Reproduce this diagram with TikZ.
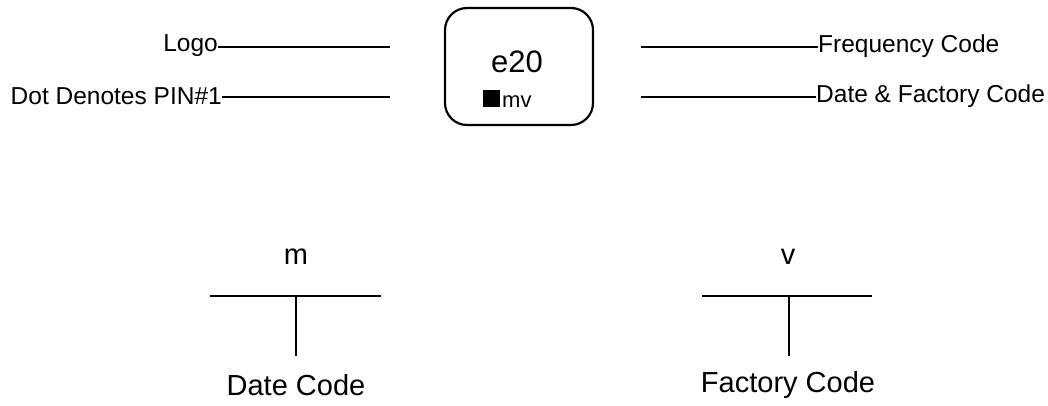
\documentclass[tikz,border=0pt]{standalone}
\usepackage{fontspec}
\setmainfont{Liberation Sans}
\begin{document}
\begin{tikzpicture}[x=1pt,y=-1pt,
  lbl/.style={inner sep=0pt, font=\fontsize{24.5}{27}\selectfont},
  big/.style={inner sep=0pt, font=\fontsize{29}{32}\selectfont},
  wire/.style={line width=2.2pt},
  chip/.style={draw, line width=2.2pt, rounded corners=22pt, minimum width=148pt, minimum height=117pt, inner sep=0pt}]
\useasboundingbox (0,0) rectangle (1048,405);
% chip
\node[chip] (box) at (519,66.5) {};
\node[inner sep=0pt, font=\fontsize{31}{35}\selectfont] (e20) at (517,62) {e20};
\node[fill=black, minimum width=17pt, minimum height=17pt, inner sep=0pt] (dot) at (491,98.5) {};
\node[inner sep=0pt, anchor=base west, font=\fontsize{22}{25}\selectfont] (mv) at (502,107) {mv};
% left labels
\node[lbl, anchor=east] (logo) at (218,46) {Logo};
\coordinate (logoE) at (390,47);
\draw[wire] (logo.east |- logoE) -- (logoE);
\node[lbl, anchor=east] (pin) at (222,96) {Dot Denotes PIN\#1};
\coordinate (pinE) at (390,97);
\draw[wire] (pin.east |- pinE) -- (pinE);
% right labels
\node[lbl, anchor=west] (freq) at (818,46) {Frequency Code};
\coordinate (freqW) at (641,47);
\draw[wire] (freqW) -- (freq.west |- freqW);
\node[lbl, anchor=west] (dfc) at (816,96) {Date \& Factory Code};
\coordinate (dfcW) at (641,97);
\draw[wire] (dfcW) -- (dfc.west |- dfcW);
% date code
\node[big] (m) at (296,257) {m};
\coordinate (mL) at (210,296);
\coordinate (mR) at (381,296);
\coordinate (mT) at (296,296);
\coordinate (mB) at (296,356);
\draw[wire] (mL) -- (mR);
\draw[wire] (mT) -- (mB);
\node[big] (dc) at (296,385) {Date Code};
% factory code
\node[big] (v) at (788,257) {v};
\coordinate (vL) at (702,296);
\coordinate (vR) at (872,296);
\coordinate (vT) at (789,296);
\coordinate (vB) at (789,356);
\draw[wire] (vL) -- (vR);
\draw[wire] (vT) -- (vB);
\node[big] (fc) at (788,385) {Factory Code};
\end{tikzpicture}
\end{document}
